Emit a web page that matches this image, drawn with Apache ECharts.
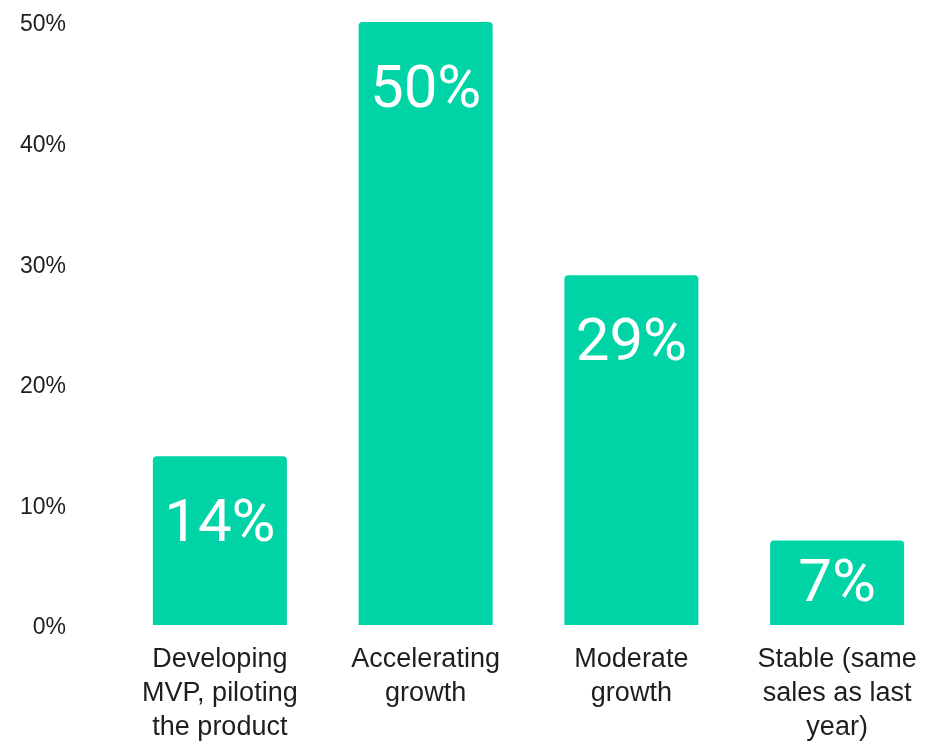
<!DOCTYPE html>
<html>
<head>
<meta charset="utf-8">
<style>
  html, body { margin: 0; padding: 0; background: #ffffff; }
  #chart { width: 932px; height: 741px; }
</style>
<script src="https://cdn.jsdelivr.net/npm/echarts@6/dist/echarts.min.js"></script>
</head>
<body>
<div id="chart"></div>
<script>
// Growth stage categories and share of respondents (%)
const categories = [
  'Developing\nMVP, piloting\nthe product',
  'Accelerating\ngrowth',
  'Moderate\ngrowth',
  'Stable (same\nsales as last\nyear)'
];
const shares = [14, 50, 29, 7];
const yTicks = [0, 10, 20, 30, 40, 50];

const chart = echarts.init(document.getElementById('chart'), null, { renderer: 'canvas' });

// Short bars get their value label centred instead of pinned to the top
const barData = shares.map(v => ({
  value: v,
  label: v < 10 ? { position: 'inside', offset: [0, 3] } : {}
}));

chart.setOption({
  animation: false,
  backgroundColor: '#ffffff',
  grid: {
    left: 117, width: 823, top: 22, bottom: 116,
    containLabel: false,
    outerBoundsMode: 'none'
  },
  xAxis: {
    type: 'category',
    data: categories,
    axisLine: { show: false },
    axisTick: { show: false },
    axisLabel: {
      interval: 0,
      margin: 18,
      color: '#1e1e1e',
      fontFamily: 'Liberation Sans, Arial, sans-serif',
      fontSize: 27,
      lineHeight: 34
    }
  },
  yAxis: {
    type: 'value',
    min: yTicks[0],
    max: yTicks[yTicks.length - 1],
    interval: 10,
    splitLine: { show: false },
    axisLine: { show: false },
    axisTick: { show: false },
    axisLabel: {
      margin: 51,
      formatter: v => '{t|' + v + '%}',
      rich: {
        t: {
          color: '#1e1e1e',
          fontFamily: 'Liberation Sans, Arial, sans-serif',
          fontSize: 23,
          padding: [6, 0, 0, 0]
        }
      }
    }
  },
  series: [{
    type: 'bar',
    data: barData,
    barWidth: 134,
    itemStyle: { color: '#00d4a6', borderRadius: [4, 4, 0, 0] },
    label: {
      show: true,
      position: 'insideTop',
      distance: 40,
      color: '#ffffff',
      fontFamily: 'Roboto, sans-serif',
      fontWeight: 400,
      fontSize: 60,
      formatter: p => p.value + '%'
    }
  }]
});
</script>
</body>
</html>
